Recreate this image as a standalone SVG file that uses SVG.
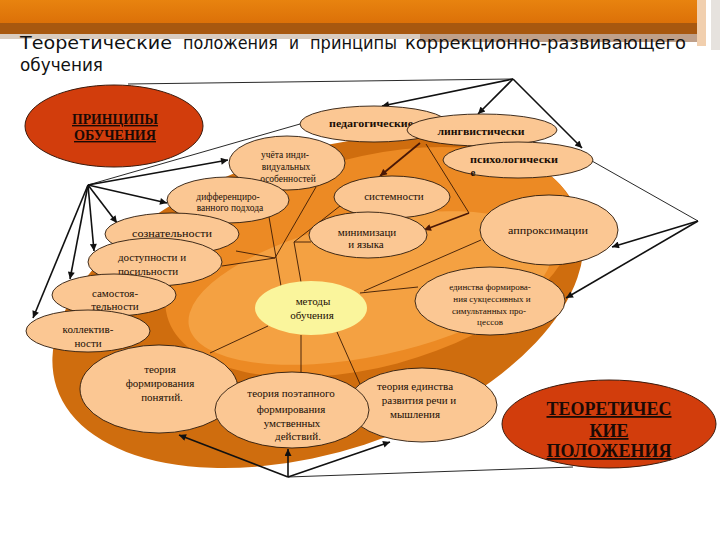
<svg xmlns="http://www.w3.org/2000/svg" width="720" height="540" viewBox="0 0 720 540">
<defs>
<linearGradient id="bar" x1="0" y1="0" x2="0" y2="1"><stop offset="0" stop-color="#E8830F"/><stop offset="1" stop-color="#DC7008"/></linearGradient>
<marker id="ah" viewBox="0 0 10 10" refX="10" refY="5" markerWidth="9" markerHeight="7" markerUnits="userSpaceOnUse" orient="auto"><path d="M0,0 L10,5 L0,10 z" fill="#111"/></marker>
<marker id="ahb" viewBox="0 0 10 10" refX="10" refY="5" markerWidth="9" markerHeight="7" markerUnits="userSpaceOnUse" orient="auto"><path d="M0,0 L10,5 L0,10 z" fill="#4a1806"/></marker>
</defs>
<style>
.title{font-family:"DejaVu Sans","Liberation Sans",sans-serif;font-size:18px;fill:#111}
.nd{fill:#FBC793;stroke:#2a1a0c;stroke-width:0.9}
.red{fill:#D23D0C;stroke:#3a1a0c;stroke-width:1}
.yel{fill:#FAF59C}
.t{font-family:"Liberation Serif","Times New Roman",serif;font-size:11px;fill:#1a0e05;text-anchor:middle}
.s{font-size:9.5px}
.xs{font-size:9px}
.tb{font-weight:bold}
.rt{font-family:"Liberation Serif","Times New Roman",serif;font-weight:bold;fill:#1a0a05;text-anchor:middle;text-decoration:underline}
.ar{stroke:#111;stroke-width:1.6;fill:none;marker-end:url(#ah)}
.ln{stroke:#111;stroke-width:0.9;fill:none}
.il{stroke:#3a1a05;stroke-width:0.9;fill:none}
.br{stroke:#4a1806;stroke-width:1.8;fill:none;marker-end:url(#ahb)}
</style>
<rect width="720" height="540" fill="#fff"/>
<g id="header">
<rect x="0" y="0" width="705" height="24" fill="url(#bar)"/>
<rect x="0" y="23" width="705" height="11" fill="#A8580F"/>
<rect x="0" y="34" width="420" height="5" fill="#D9CCC0"/>
<rect x="420" y="34" width="285" height="8" fill="#BFA08A"/>
<rect x="697" y="0" width="9" height="46" fill="#F1CFAE"/>
<rect x="711" y="0" width="9" height="50" fill="#E6E2DE"/>
<text class="title" x="20" y="49" textLength="152" lengthAdjust="spacingAndGlyphs">Теоретические</text>
<text class="title" x="183" y="49" textLength="95" lengthAdjust="spacingAndGlyphs">положения</text>
<text class="title" x="289" y="49" textLength="10" lengthAdjust="spacingAndGlyphs">и</text>
<text class="title" x="310" y="49" textLength="87" lengthAdjust="spacingAndGlyphs">принципы</text>
<text class="title" x="405" y="49" textLength="281" lengthAdjust="spacingAndGlyphs">коррекционно-развивающего</text>
<text class="title" x="20" y="71" textLength="83" lengthAdjust="spacingAndGlyphs">обучения</text>
</g>
<g id="background">
<ellipse cx="318" cy="302" rx="275" ry="150" transform="rotate(-18 318 302)" fill="#CF6D0E"/>
<ellipse cx="370" cy="262" rx="210" ry="105" transform="rotate(-15 370 262)" fill="#EC8A24"/>
<ellipse cx="370" cy="288" rx="185" ry="68" transform="rotate(-12 370 288)" fill="#F4A142"/>
</g>
<g id="connectors">
<line class="ln" x1="88" y1="185" x2="300" y2="124"/>
<line class="ar" x1="88" y1="185" x2="228" y2="160"/>
<line class="ar" x1="88" y1="185" x2="167" y2="203"/>
<line class="ar" x1="88" y1="185" x2="117" y2="223"/>
<line class="ar" x1="88" y1="185" x2="94" y2="251"/>
<line class="ar" x1="88" y1="185" x2="70" y2="279"/>
<line class="ar" x1="88" y1="185" x2="33" y2="318"/>
<line class="ln" x1="128" y1="84" x2="513" y2="79"/>
<line class="ar" x1="513" y1="79" x2="382" y2="106"/>
<line class="ar" x1="513" y1="79" x2="478" y2="114"/>
<line class="ar" x1="513" y1="79" x2="582" y2="148"/>
<line class="ln" x1="592" y1="161" x2="698" y2="221"/>
<line class="ar" x1="698" y1="221" x2="612" y2="247"/>
<line class="ar" x1="698" y1="221" x2="566" y2="298"/>
<line class="ar" x1="288" y1="477" x2="179" y2="435"/>
<line class="ar" x1="288" y1="477" x2="288" y2="449"/>
<line class="ar" x1="288" y1="477" x2="390" y2="442"/>
<line class="ln" x1="288" y1="477" x2="573" y2="467"/>
<line class="br" x1="420" y1="143" x2="380" y2="176"/>
<line class="il" x1="426" y1="144" x2="469" y2="213"/>
<line class="br" x1="469" y1="213" x2="424" y2="230"/>
<line class="il" x1="269" y1="217" x2="281" y2="286"/>
<line class="il" x1="236" y1="251" x2="275" y2="258"/>
<line class="il" x1="222" y1="266" x2="275" y2="258"/>
<line class="il" x1="275" y1="258" x2="316" y2="187"/>
<line class="il" x1="294" y1="242" x2="311" y2="242"/>
<line class="il" x1="294" y1="242" x2="301" y2="282"/>
<line class="il" x1="294" y1="242" x2="340" y2="206"/>
<line class="il" x1="360" y1="293" x2="418" y2="287"/>
<line class="il" x1="364" y1="291" x2="481" y2="240"/>
<line class="il" x1="268" y1="326" x2="210" y2="353"/>
<line class="il" x1="301" y1="335" x2="301" y2="373"/>
<line class="il" x1="337" y1="332" x2="360" y2="384"/>
</g>
<g id="n-principles">
<ellipse class="red" cx="114" cy="126" rx="89" ry="41"/>
<text class="rt" x="115" y="124" font-size="14" textLength="86" lengthAdjust="spacingAndGlyphs">ПРИНЦИПЫ</text>
<text class="rt" x="115" y="140" font-size="14" textLength="82" lengthAdjust="spacingAndGlyphs">ОБУЧЕНИЯ</text>
</g>
<g id="n-ped">
<ellipse class="nd" cx="374" cy="124" rx="74" ry="18"/>
<text class="t tb" x="371" y="127" textLength="84" lengthAdjust="spacingAndGlyphs">педагогические</text>
</g>
<g id="n-ling">
<ellipse class="nd" cx="482" cy="130" rx="75" ry="16"/>
<text class="t tb" x="481" y="135" textLength="87" lengthAdjust="spacingAndGlyphs">лингвистически</text>
</g>
<g id="n-psych">
<ellipse class="nd" cx="518" cy="160" rx="75" ry="18"/>
<text class="t tb" x="514" y="163" textLength="88" lengthAdjust="spacingAndGlyphs">психологически</text>
<text class="t tb" x="473" y="176">е</text>
</g>
<g id="n-individ">
<ellipse class="nd" cx="287" cy="163" rx="58" ry="27"/>
<text class="t s" x="285" y="158">учёта инди-</text>
<text class="t s" x="286" y="170">видуальных</text>
<text class="t s" x="288" y="182">особенностей</text>
</g>
<g id="n-diff">
<ellipse class="nd" cx="228" cy="200" rx="61" ry="23"/>
<text class="t s" x="228" y="200">дифференциро-</text>
<text class="t s" x="230" y="211">ванного подхода</text>
</g>
<g id="n-consc">
<ellipse class="nd" cx="172" cy="234" rx="67" ry="21"/>
<text class="t" x="172" y="237" textLength="80" lengthAdjust="spacingAndGlyphs">сознательности</text>
</g>
<g id="n-access">
<ellipse class="nd" cx="155" cy="262" rx="67" ry="24"/>
<text class="t" x="152" y="261">доступности и</text>
<text class="t" x="148" y="275">посильности</text>
</g>
<g id="n-indep">
<ellipse class="nd" cx="114" cy="295" rx="62" ry="21"/>
<text class="t" x="115" y="297">самостоя-</text>
<text class="t" x="115" y="310">тельности</text>
</g>
<g id="n-collect">
<ellipse class="nd" cx="88" cy="331" rx="62" ry="21"/>
<text class="t" x="88" y="333">коллектив-</text>
<text class="t" x="88" y="347">ности</text>
</g>
<g id="n-system">
<ellipse class="nd" cx="392" cy="197" rx="58" ry="21"/>
<text class="t" x="394" y="200">системности</text>
</g>
<g id="n-minim">
<ellipse class="nd" cx="368" cy="235" rx="59" ry="23"/>
<text class="t" x="367" y="236">минимизаци</text>
<text class="t" x="366" y="248">и языка</text>
</g>
<g id="n-approx">
<ellipse class="nd" cx="549" cy="230" rx="69" ry="35"/>
<text class="t" x="548" y="234" textLength="80" lengthAdjust="spacingAndGlyphs">аппроксимации</text>
</g>
<g id="n-unity">
<ellipse class="nd" cx="490" cy="301" rx="75" ry="34"/>
<text class="t xs" x="490" y="290">единства формирова-</text>
<text class="t xs" x="492" y="302">ния сукцессивных и</text>
<text class="t xs" x="489" y="314">симультанных про-</text>
<text class="t xs" x="490" y="325">цессов</text>
</g>
<g id="n-methods">
<ellipse class="yel" cx="311" cy="308" rx="56" ry="27"/>
<text class="t" x="313" y="305">методы</text>
<text class="t" x="312" y="319">обучения</text>
</g>
<g id="n-concepts">
<ellipse class="nd" cx="159" cy="389" rx="79" ry="44"/>
<text class="t" x="160" y="373">теория</text>
<text class="t" x="160" y="387">формирования</text>
<text class="t" x="162" y="401">понятий.</text>
</g>
<g id="n-speech">
<ellipse class="nd" cx="422" cy="405" rx="75" ry="37"/>
<text class="t" x="415" y="390">теория единства</text>
<text class="t" x="419" y="404">развития речи и</text>
<text class="t" x="415" y="418">мышления</text>
</g>
<g id="n-stages">
<ellipse class="nd" cx="292" cy="410" rx="77" ry="38"/>
<text class="t" x="291" y="397">теория поэтапного</text>
<text class="t" x="291" y="413">формирования</text>
<text class="t" x="292" y="427">умственных</text>
<text class="t" x="298" y="440">действий.</text>
</g>
<g id="n-theory">
<ellipse class="red" cx="609" cy="424" rx="107" ry="44"/>
<text class="rt" x="609" y="415" font-size="18" textLength="125" lengthAdjust="spacingAndGlyphs">ТЕОРЕТИЧЕС</text>
<text class="rt" x="609" y="437" font-size="18">КИЕ</text>
<text class="rt" x="609" y="457" font-size="18" textLength="125" lengthAdjust="spacingAndGlyphs">ПОЛОЖЕНИЯ</text>
</g>
</svg>
